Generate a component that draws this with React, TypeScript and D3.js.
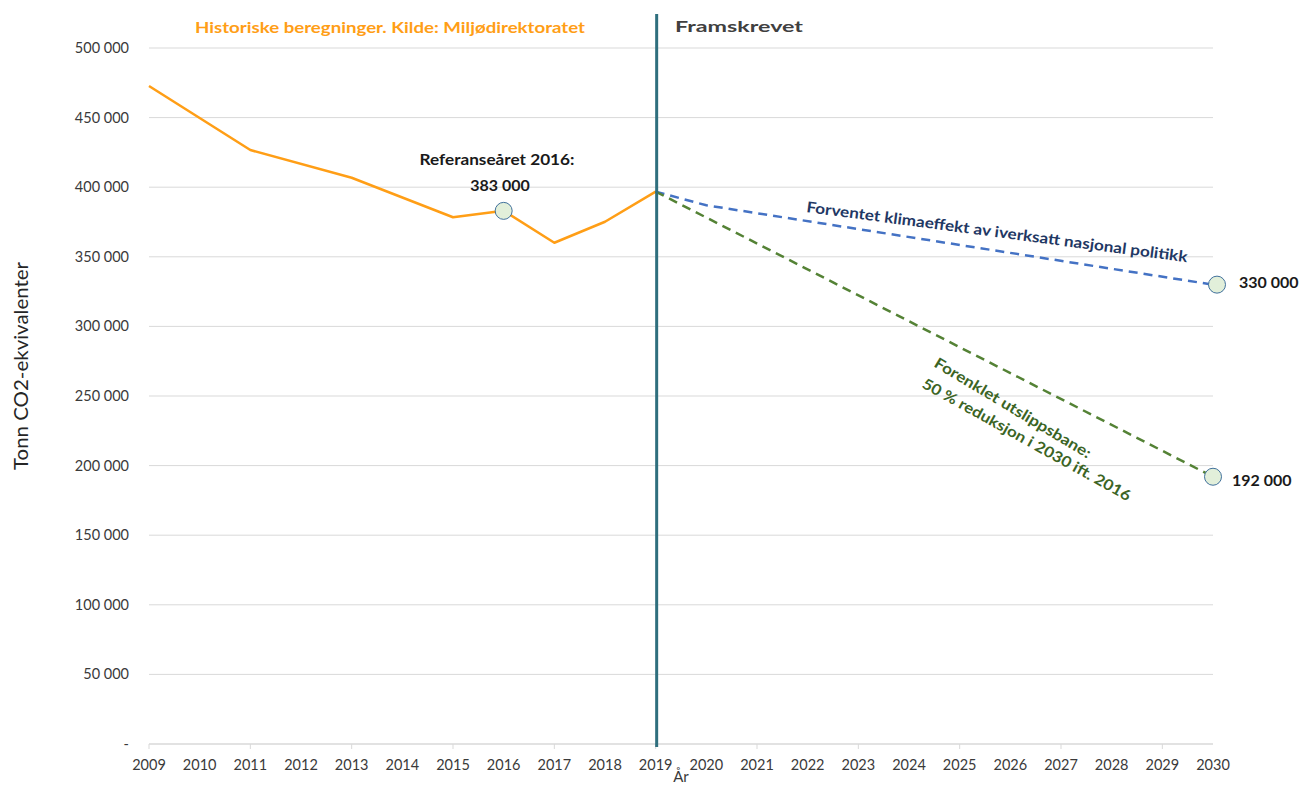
import React from "react";
import * as d3 from "d3";

// historical emissions (Miljødirektoratet), tonn CO2-ekv.
const histYears = [2009, 2011, 2013, 2015, 2016, 2017, 2018, 2019];
const histValues = [472700, 426700, 406800, 378400, 383000, 360100, 375200, 396800];

// projections
const policyYears = [2019, 2020, 2030];
const policyValues = [396800, 387000, 330000];
const pathYears = [2019, 2030];
const pathValues = [396800, 192000];

const yTicks = [0, 50000, 100000, 150000, 200000, 250000, 300000, 350000, 400000, 450000, 500000];
const xYears = d3.range(2009, 2031);

const W = 1300;
const H = 785;
const FONT = "Lato, 'Open Sans', sans-serif";

const fmt = (v: number) => (v === 0 ? "-" : d3.format(",")(v).replace(/,/g, " "));

const App = () => {
  const x = d3.scaleLinear().domain([2009, 2030]).range([149, 1213]);
  const y = d3.scaleLinear().domain([0, 500000]).range([744, 48]);

  const line = d3
    .line<[number, number]>()
    .x((d) => x(d[0]))
    .y((d) => y(d[1]));

  const hist = histYears.map((yr, i) => [yr, histValues[i]] as [number, number]);
  const policy = policyYears.map((yr, i) => [yr, policyValues[i]] as [number, number]);
  const path = pathYears.map((yr, i) => [yr, pathValues[i]] as [number, number]);

  const marker = (cx: number, cy: number, key: string) => (
    <circle key={key} cx={cx} cy={cy} r={8.5} fill="#E2EFDA" stroke="#41719C" strokeWidth={1} />
  );

  return (
    <svg width={W} height={H} style={{ position: "absolute", left: 0, top: 0 }} fontFamily={FONT}>
      <rect width={W} height={H} fill="#fff" />

      {/* gridlines */}
      {yTicks.slice(1).map((t) => (
        <line key={t} x1={x(2009)} x2={x(2030)} y1={y(t)} y2={y(t)} stroke="#D9D9D9" strokeWidth={1} />
      ))}
      <line x1={x(2009)} x2={x(2030)} y1={y(0)} y2={y(0)} stroke="#D9D9D9" strokeWidth={1.5} />
      {xYears
        .filter((yr) => yr % 2 === 1)
        .map((yr) => (
          <line key={yr} x1={x(yr)} x2={x(yr)} y1={y(0)} y2={y(0) + 5} stroke="#D9D9D9" />
        ))}

      {/* y tick labels */}
      {yTicks.map((t) => (
        <text key={t} x={129} y={y(t) + 5} textAnchor="end" fontSize={14.5} fill="#3a3a3a">
          {fmt(t)}
        </text>
      ))}

      {/* x tick labels */}
      {xYears.map((yr) => (
        <text key={yr} x={x(yr)} y={770} textAnchor="middle" fontSize={14.5} fill="#3a3a3a">
          {yr}
        </text>
      ))}
      <text x={681} y={782} textAnchor="middle" fontSize={15} fill="#3a3a3a">
        År
      </text>
      <text
        transform={`translate(28,366) rotate(-90)`}
        textAnchor="middle"
        fontSize={20}
        fontWeight={400}
        fill="#262626"
        textLength={208}
        lengthAdjust="spacingAndGlyphs"
      >
        Tonn CO2-ekvivalenter
      </text>

      {/* series */}
      <path d={line(hist) ?? ""} fill="none" stroke="#FF9E16" strokeWidth={2.5} strokeLinejoin="round" />
      <path d={line(policy) ?? ""} fill="none" stroke="#4472C4" strokeWidth={2.5} strokeDasharray="9 6" />
      <path d={line(path) ?? ""} fill="none" stroke="#548235" strokeWidth={2.5} strokeDasharray="9 6" />

      {/* divider */}
      <line x1={x(2019) + 1} x2={x(2019) + 1} y1={14} y2={747} stroke="#2F6F7E" strokeWidth={3} />

      {marker(x(2016), y(383000), "ref")}
      {marker(x(2030) + 4, y(policyValues[2]), "pol")}
      {marker(x(2030), y(pathValues[1]), "path")}

      {/* labels */}
      <text x={195} y={33} fontSize={16} fontWeight={700} fill="#FF9E16" textLength={390} lengthAdjust="spacingAndGlyphs">
        Historiske beregninger. Kilde: Miljødirektoratet
      </text>
      <text x={675} y={32} fontSize={16} fontWeight={700} fill="#404040" textLength={128} lengthAdjust="spacingAndGlyphs">
        Framskrevet
      </text>
      <text x={497} y={165} textAnchor="middle" fontSize={16} fontWeight={700} fill="#1a1a1a" textLength={155} lengthAdjust="spacingAndGlyphs">
        Referanseåret 2016:
      </text>
      <text x={500} y={191} textAnchor="middle" fontSize={16} fontWeight={700} fill="#1a1a1a">
        383 000
      </text>
      <text x={1239} y={288} fontSize={16} fontWeight={700} fill="#1a1a1a">
        {fmt(policyValues[2])}
      </text>
      <text x={1232} y={486} fontSize={16} fontWeight={700} fill="#1a1a1a">
        {fmt(pathValues[1])}
      </text>

      <text
        transform={`translate(806,212) rotate(7.5)`}
        fontSize={15}
        fontWeight={700}
        fill="#1F3864"
        textLength={384}
        lengthAdjust="spacingAndGlyphs"
      >
        Forventet klimaeffekt av iverksatt nasjonal politikk
      </text>
      <text
        transform={`translate(933,366) rotate(31)`}
        fontSize={15}
        fontWeight={700}
        fill="#3B6424"
        textLength={180}
        lengthAdjust="spacingAndGlyphs"
      >
        Forenklet utslippsbane:
      </text>
      <text
        transform={`translate(921,387) rotate(29)`}
        fontSize={15}
        fontWeight={700}
        fill="#3B6424"
        textLength={236}
        lengthAdjust="spacingAndGlyphs"
      >
        50 % reduksjon i 2030 ift. 2016
      </text>
    </svg>
  );
};

export default App;
